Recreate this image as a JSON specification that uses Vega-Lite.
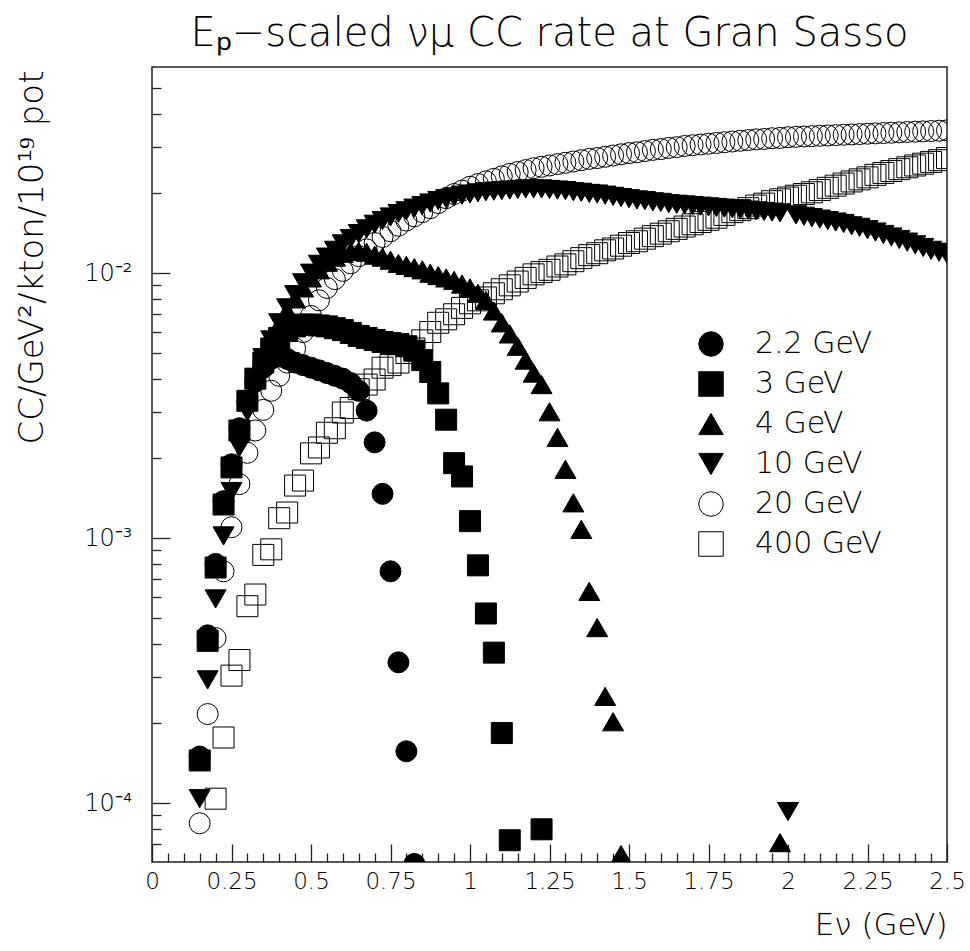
{
"$schema": "https://vega.github.io/schema/vega-lite/v6.json",
"width": 795, "height": 795,
"autosize": {"type": "none"},
"padding": {"left": 152, "top": 67, "right": 23, "bottom": 89},
"background": "white",
"config": {
 "font": "DejaVu Sans",
 "view": {"stroke": "#222", "strokeWidth": 1.5},
 "axis": {"grid": false, "domain": false, "tickColor": "#222", "tickWidth": 1.3, "labelColor": "black", "titleColor": "black", "labelFont": "DejaVu Sans", "titleFont": "DejaVu Sans", "labelFontWeight": 200, "titleFontWeight": 200}
},
"title": {"text": "Eₚ−scaled νμ CC rate at Gran Sasso", "fontSize": 40, "fontWeight": 200, "color": "black", "anchor": "middle", "baseline": "alphabetic", "offset": 22, "dy": 41, "font": "DejaVu Sans"},
"datasets": {"d": [
{"s":"2.2 GeV","x":0.15,"y":1.5e-4},{"s":"2.2 GeV","x":0.175,"y":4.3e-4},{"s":"2.2 GeV","x":0.2,"y":8.0e-4},{"s":"2.2 GeV","x":0.225,"y":1.38e-3},{"s":"2.2 GeV","x":0.25,"y":1.9e-3},{"s":"2.2 GeV","x":0.275,"y":2.6e-3},{"s":"2.2 GeV","x":0.3,"y":3.3e-3},{"s":"2.2 GeV","x":0.325,"y":3.9e-3},{"s":"2.2 GeV","x":0.35,"y":4.4e-3},{"s":"2.2 GeV","x":0.375,"y":4.75e-3},{"s":"2.2 GeV","x":0.4,"y":4.85e-3},{"s":"2.2 GeV","x":0.425,"y":4.75e-3},{"s":"2.2 GeV","x":0.45,"y":4.6e-3},{"s":"2.2 GeV","x":0.475,"y":4.5e-3},{"s":"2.2 GeV","x":0.5,"y":4.4e-3},{"s":"2.2 GeV","x":0.525,"y":4.3e-3},{"s":"2.2 GeV","x":0.55,"y":4.2e-3},{"s":"2.2 GeV","x":0.575,"y":4.1e-3},{"s":"2.2 GeV","x":0.6,"y":4.0e-3},{"s":"2.2 GeV","x":0.625,"y":3.85e-3},{"s":"2.2 GeV","x":0.65,"y":3.6e-3},{"s":"2.2 GeV","x":0.675,"y":3.03e-3},{"s":"2.2 GeV","x":0.7,"y":2.3e-3},{"s":"2.2 GeV","x":0.725,"y":1.47e-3},{"s":"2.2 GeV","x":0.75,"y":7.5e-4},{"s":"2.2 GeV","x":0.775,"y":3.4e-4},{"s":"2.2 GeV","x":0.8,"y":1.57e-4},{"s":"2.2 GeV","x":0.825,"y":5.9e-5},
{"s":"3 GeV","x":0.15,"y":1.45e-4},{"s":"3 GeV","x":0.175,"y":4.1e-4},{"s":"3 GeV","x":0.2,"y":7.75e-4},{"s":"3 GeV","x":0.225,"y":1.34e-3},{"s":"3 GeV","x":0.25,"y":1.85e-3},{"s":"3 GeV","x":0.275,"y":2.55e-3},{"s":"3 GeV","x":0.3,"y":3.3e-3},{"s":"3 GeV","x":0.325,"y":4.0e-3},{"s":"3 GeV","x":0.35,"y":4.6e-3},{"s":"3 GeV","x":0.375,"y":5.2e-3},{"s":"3 GeV","x":0.4,"y":5.7e-3},{"s":"3 GeV","x":0.425,"y":6.05e-3},{"s":"3 GeV","x":0.45,"y":6.3e-3},{"s":"3 GeV","x":0.475,"y":6.4e-3},{"s":"3 GeV","x":0.5,"y":6.4e-3},{"s":"3 GeV","x":0.525,"y":6.35e-3},{"s":"3 GeV","x":0.55,"y":6.3e-3},{"s":"3 GeV","x":0.575,"y":6.2e-3},{"s":"3 GeV","x":0.6,"y":6.1e-3},{"s":"3 GeV","x":0.625,"y":5.95e-3},{"s":"3 GeV","x":0.65,"y":5.8e-3},{"s":"3 GeV","x":0.675,"y":5.7e-3},{"s":"3 GeV","x":0.7,"y":5.6e-3},{"s":"3 GeV","x":0.725,"y":5.5e-3},{"s":"3 GeV","x":0.75,"y":5.45e-3},{"s":"3 GeV","x":0.775,"y":5.4e-3},{"s":"3 GeV","x":0.8,"y":5.3e-3},{"s":"3 GeV","x":0.825,"y":5.1e-3},{"s":"3 GeV","x":0.85,"y":4.7e-3},{"s":"3 GeV","x":0.875,"y":4.24e-3},{"s":"3 GeV","x":0.9,"y":3.52e-3},{"s":"3 GeV","x":0.925,"y":2.8e-3},{"s":"3 GeV","x":0.95,"y":1.92e-3},{"s":"3 GeV","x":0.975,"y":1.71e-3},{"s":"3 GeV","x":1.0,"y":1.16e-3},{"s":"3 GeV","x":1.025,"y":7.9e-4},{"s":"3 GeV","x":1.05,"y":5.2e-4},{"s":"3 GeV","x":1.075,"y":3.7e-4},{"s":"3 GeV","x":1.1,"y":1.84e-4},{"s":"3 GeV","x":1.125,"y":7.25e-5},{"s":"3 GeV","x":1.225,"y":7.97e-5},
{"s":"4 GeV","x":0.15,"y":1.5e-4},{"s":"4 GeV","x":0.175,"y":4.2e-4},{"s":"4 GeV","x":0.2,"y":7.9e-4},{"s":"4 GeV","x":0.225,"y":1.36e-3},{"s":"4 GeV","x":0.25,"y":1.85e-3},{"s":"4 GeV","x":0.275,"y":2.55e-3},{"s":"4 GeV","x":0.3,"y":3.3e-3},{"s":"4 GeV","x":0.325,"y":4.1e-3},{"s":"4 GeV","x":0.35,"y":4.9e-3},{"s":"4 GeV","x":0.375,"y":5.7e-3},{"s":"4 GeV","x":0.4,"y":6.4e-3},{"s":"4 GeV","x":0.425,"y":7.2e-3},{"s":"4 GeV","x":0.45,"y":8.0e-3},{"s":"4 GeV","x":0.475,"y":8.8e-3},{"s":"4 GeV","x":0.5,"y":9.6e-3},{"s":"4 GeV","x":0.525,"y":1.03e-2},{"s":"4 GeV","x":0.55,"y":1.1e-2},{"s":"4 GeV","x":0.575,"y":1.15e-2},{"s":"4 GeV","x":0.6,"y":1.19e-2},{"s":"4 GeV","x":0.625,"y":1.21e-2},{"s":"4 GeV","x":0.65,"y":1.21e-2},{"s":"4 GeV","x":0.675,"y":1.2e-2},{"s":"4 GeV","x":0.7,"y":1.17e-2},{"s":"4 GeV","x":0.725,"y":1.15e-2},{"s":"4 GeV","x":0.75,"y":1.12e-2},{"s":"4 GeV","x":0.775,"y":1.09e-2},{"s":"4 GeV","x":0.8,"y":1.07e-2},{"s":"4 GeV","x":0.825,"y":1.05e-2},{"s":"4 GeV","x":0.85,"y":1.03e-2},{"s":"4 GeV","x":0.875,"y":1.0e-2},{"s":"4 GeV","x":0.9,"y":9.8e-3},{"s":"4 GeV","x":0.925,"y":9.6e-3},{"s":"4 GeV","x":0.95,"y":9.4e-3},{"s":"4 GeV","x":0.975,"y":9.1e-3},{"s":"4 GeV","x":1.0,"y":8.8e-3},{"s":"4 GeV","x":1.025,"y":8.4e-3},{"s":"4 GeV","x":1.05,"y":7.9e-3},{"s":"4 GeV","x":1.075,"y":7.2e-3},{"s":"4 GeV","x":1.1,"y":6.5e-3},{"s":"4 GeV","x":1.125,"y":5.9e-3},{"s":"4 GeV","x":1.15,"y":5.3e-3},{"s":"4 GeV","x":1.175,"y":4.7e-3},{"s":"4 GeV","x":1.2,"y":4.2e-3},{"s":"4 GeV","x":1.225,"y":3.8e-3},{"s":"4 GeV","x":1.25,"y":3.0e-3},{"s":"4 GeV","x":1.275,"y":2.4e-3},{"s":"4 GeV","x":1.3,"y":1.82e-3},{"s":"4 GeV","x":1.325,"y":1.36e-3},{"s":"4 GeV","x":1.35,"y":1.08e-3},{"s":"4 GeV","x":1.375,"y":6.3e-4},{"s":"4 GeV","x":1.4,"y":4.6e-4},{"s":"4 GeV","x":1.425,"y":2.53e-4},{"s":"4 GeV","x":1.45,"y":2.03e-4},{"s":"4 GeV","x":1.475,"y":6.4e-5},{"s":"4 GeV","x":1.975,"y":7.1e-5},
{"s":"10 GeV","x":0.15,"y":1.04e-4},{"s":"10 GeV","x":0.175,"y":2.92e-4},{"s":"10 GeV","x":0.2,"y":5.9e-4},{"s":"10 GeV","x":0.225,"y":1.02e-3},{"s":"10 GeV","x":0.25,"y":1.5e-3},{"s":"10 GeV","x":0.275,"y":2.2e-3},{"s":"10 GeV","x":0.3,"y":3.0e-3},{"s":"10 GeV","x":0.325,"y":3.9e-3},{"s":"10 GeV","x":0.35,"y":4.8e-3},{"s":"10 GeV","x":0.375,"y":5.6e-3},{"s":"10 GeV","x":0.4,"y":6.5e-3},{"s":"10 GeV","x":0.425,"y":7.4e-3},{"s":"10 GeV","x":0.45,"y":8.3e-3},{"s":"10 GeV","x":0.475,"y":9.2e-3},{"s":"10 GeV","x":0.5,"y":1.0e-2},{"s":"10 GeV","x":0.525,"y":1.08e-2},{"s":"10 GeV","x":0.55,"y":1.15e-2},{"s":"10 GeV","x":0.575,"y":1.22e-2},{"s":"10 GeV","x":0.6,"y":1.29e-2},{"s":"10 GeV","x":0.625,"y":1.35e-2},{"s":"10 GeV","x":0.65,"y":1.41e-2},{"s":"10 GeV","x":0.675,"y":1.47e-2},{"s":"10 GeV","x":0.7,"y":1.53e-2},{"s":"10 GeV","x":0.725,"y":1.58e-2},{"s":"10 GeV","x":0.75,"y":1.63e-2},{"s":"10 GeV","x":0.775,"y":1.68e-2},{"s":"10 GeV","x":0.8,"y":1.72e-2},{"s":"10 GeV","x":0.825,"y":1.76e-2},{"s":"10 GeV","x":0.85,"y":1.8e-2},{"s":"10 GeV","x":0.875,"y":1.84e-2},{"s":"10 GeV","x":0.9,"y":1.88e-2},{"s":"10 GeV","x":0.925,"y":1.91e-2},{"s":"10 GeV","x":0.95,"y":1.94e-2},{"s":"10 GeV","x":0.975,"y":1.97e-2},{"s":"10 GeV","x":1.0,"y":1.99e-2},{"s":"10 GeV","x":1.025,"y":2.01e-2},{"s":"10 GeV","x":1.05,"y":2.03e-2},{"s":"10 GeV","x":1.075,"y":2.04e-2},{"s":"10 GeV","x":1.1,"y":2.05e-2},{"s":"10 GeV","x":1.125,"y":2.06e-2},{"s":"10 GeV","x":1.15,"y":2.07e-2},{"s":"10 GeV","x":1.175,"y":2.08e-2},{"s":"10 GeV","x":1.2,"y":2.08e-2},{"s":"10 GeV","x":1.225,"y":2.08e-2},{"s":"10 GeV","x":1.25,"y":2.07e-2},{"s":"10 GeV","x":1.275,"y":2.06e-2},{"s":"10 GeV","x":1.3,"y":2.05e-2},{"s":"10 GeV","x":1.325,"y":2.03e-2},{"s":"10 GeV","x":1.35,"y":2.02e-2},{"s":"10 GeV","x":1.375,"y":2.0e-2},{"s":"10 GeV","x":1.4,"y":1.99e-2},{"s":"10 GeV","x":1.425,"y":1.97e-2},{"s":"10 GeV","x":1.45,"y":1.95e-2},{"s":"10 GeV","x":1.475,"y":1.93e-2},{"s":"10 GeV","x":1.5,"y":1.91e-2},{"s":"10 GeV","x":1.525,"y":1.89e-2},{"s":"10 GeV","x":1.55,"y":1.88e-2},{"s":"10 GeV","x":1.575,"y":1.86e-2},{"s":"10 GeV","x":1.6,"y":1.85e-2},{"s":"10 GeV","x":1.625,"y":1.83e-2},{"s":"10 GeV","x":1.65,"y":1.82e-2},{"s":"10 GeV","x":1.675,"y":1.81e-2},{"s":"10 GeV","x":1.7,"y":1.8e-2},{"s":"10 GeV","x":1.725,"y":1.79e-2},{"s":"10 GeV","x":1.75,"y":1.78e-2},{"s":"10 GeV","x":1.775,"y":1.77e-2},{"s":"10 GeV","x":1.8,"y":1.76e-2},{"s":"10 GeV","x":1.825,"y":1.75e-2},{"s":"10 GeV","x":1.85,"y":1.74e-2},{"s":"10 GeV","x":1.875,"y":1.73e-2},{"s":"10 GeV","x":1.9,"y":1.72e-2},{"s":"10 GeV","x":1.925,"y":1.71e-2},{"s":"10 GeV","x":1.95,"y":1.7e-2},{"s":"10 GeV","x":1.975,"y":1.69e-2},{"s":"10 GeV","x":2.0,"y":9.3e-5},{"s":"10 GeV","x":2.025,"y":1.66e-2},{"s":"10 GeV","x":2.05,"y":1.64e-2},{"s":"10 GeV","x":2.075,"y":1.62e-2},{"s":"10 GeV","x":2.1,"y":1.6e-2},{"s":"10 GeV","x":2.125,"y":1.58e-2},{"s":"10 GeV","x":2.15,"y":1.56e-2},{"s":"10 GeV","x":2.175,"y":1.54e-2},{"s":"10 GeV","x":2.2,"y":1.51e-2},{"s":"10 GeV","x":2.225,"y":1.49e-2},{"s":"10 GeV","x":2.25,"y":1.46e-2},{"s":"10 GeV","x":2.275,"y":1.43e-2},{"s":"10 GeV","x":2.3,"y":1.4e-2},{"s":"10 GeV","x":2.325,"y":1.37e-2},{"s":"10 GeV","x":2.35,"y":1.34e-2},{"s":"10 GeV","x":2.375,"y":1.31e-2},{"s":"10 GeV","x":2.4,"y":1.28e-2},{"s":"10 GeV","x":2.425,"y":1.25e-2},{"s":"10 GeV","x":2.45,"y":1.22e-2},{"s":"10 GeV","x":2.475,"y":1.2e-2},{"s":"10 GeV","x":2.5,"y":1.18e-2},
{"s":"20 GeV","x":0.15,"y":8.4e-5},{"s":"20 GeV","x":0.175,"y":2.17e-4},{"s":"20 GeV","x":0.2,"y":4.2e-4},{"s":"20 GeV","x":0.225,"y":7.5e-4},{"s":"20 GeV","x":0.25,"y":1.1e-3},{"s":"20 GeV","x":0.275,"y":1.6e-3},{"s":"20 GeV","x":0.3,"y":2.1e-3},{"s":"20 GeV","x":0.325,"y":2.55e-3},{"s":"20 GeV","x":0.35,"y":3.05e-3},{"s":"20 GeV","x":0.375,"y":3.6e-3},{"s":"20 GeV","x":0.4,"y":4.1e-3},{"s":"20 GeV","x":0.425,"y":4.6e-3},{"s":"20 GeV","x":0.45,"y":5.2e-3},{"s":"20 GeV","x":0.475,"y":6.0e-3},{"s":"20 GeV","x":0.5,"y":6.9e-3},{"s":"20 GeV","x":0.525,"y":7.9e-3},{"s":"20 GeV","x":0.55,"y":8.8e-3},{"s":"20 GeV","x":0.575,"y":9.5e-3},{"s":"20 GeV","x":0.6,"y":1.02e-2},{"s":"20 GeV","x":0.625,"y":1.09e-2},{"s":"20 GeV","x":0.65,"y":1.16e-2},{"s":"20 GeV","x":0.675,"y":1.23e-2},{"s":"20 GeV","x":0.7,"y":1.3e-2},{"s":"20 GeV","x":0.725,"y":1.37e-2},{"s":"20 GeV","x":0.75,"y":1.44e-2},{"s":"20 GeV","x":0.775,"y":1.51e-2},{"s":"20 GeV","x":0.8,"y":1.58e-2},{"s":"20 GeV","x":0.825,"y":1.64e-2},{"s":"20 GeV","x":0.85,"y":1.7e-2},{"s":"20 GeV","x":0.875,"y":1.76e-2},{"s":"20 GeV","x":0.9,"y":1.84e-2},{"s":"20 GeV","x":0.925,"y":1.92e-2},{"s":"20 GeV","x":0.95,"y":1.99e-2},{"s":"20 GeV","x":0.975,"y":2.05e-2},{"s":"20 GeV","x":1.0,"y":2.12e-2},{"s":"20 GeV","x":1.025,"y":2.17e-2},{"s":"20 GeV","x":1.05,"y":2.22e-2},{"s":"20 GeV","x":1.075,"y":2.27e-2},{"s":"20 GeV","x":1.1,"y":2.32e-2},{"s":"20 GeV","x":1.125,"y":2.37e-2},{"s":"20 GeV","x":1.15,"y":2.41e-2},{"s":"20 GeV","x":1.175,"y":2.45e-2},{"s":"20 GeV","x":1.2,"y":2.49e-2},{"s":"20 GeV","x":1.225,"y":2.52e-2},{"s":"20 GeV","x":1.25,"y":2.55e-2},{"s":"20 GeV","x":1.275,"y":2.58e-2},{"s":"20 GeV","x":1.3,"y":2.61e-2},{"s":"20 GeV","x":1.325,"y":2.64e-2},{"s":"20 GeV","x":1.35,"y":2.67e-2},{"s":"20 GeV","x":1.375,"y":2.7e-2},{"s":"20 GeV","x":1.4,"y":2.72e-2},{"s":"20 GeV","x":1.425,"y":2.75e-2},{"s":"20 GeV","x":1.45,"y":2.78e-2},{"s":"20 GeV","x":1.475,"y":2.81e-2},{"s":"20 GeV","x":1.5,"y":2.84e-2},{"s":"20 GeV","x":1.525,"y":2.86e-2},{"s":"20 GeV","x":1.55,"y":2.89e-2},{"s":"20 GeV","x":1.575,"y":2.92e-2},{"s":"20 GeV","x":1.6,"y":2.94e-2},{"s":"20 GeV","x":1.625,"y":2.97e-2},{"s":"20 GeV","x":1.65,"y":2.99e-2},{"s":"20 GeV","x":1.675,"y":3.02e-2},{"s":"20 GeV","x":1.7,"y":3.04e-2},{"s":"20 GeV","x":1.725,"y":3.06e-2},{"s":"20 GeV","x":1.75,"y":3.08e-2},{"s":"20 GeV","x":1.775,"y":3.1e-2},{"s":"20 GeV","x":1.8,"y":3.12e-2},{"s":"20 GeV","x":1.825,"y":3.14e-2},{"s":"20 GeV","x":1.85,"y":3.16e-2},{"s":"20 GeV","x":1.875,"y":3.18e-2},{"s":"20 GeV","x":1.9,"y":3.2e-2},{"s":"20 GeV","x":1.925,"y":3.21e-2},{"s":"20 GeV","x":1.95,"y":3.23e-2},{"s":"20 GeV","x":1.975,"y":3.24e-2},{"s":"20 GeV","x":2.0,"y":3.26e-2},{"s":"20 GeV","x":2.025,"y":3.27e-2},{"s":"20 GeV","x":2.05,"y":3.28e-2},{"s":"20 GeV","x":2.075,"y":3.29e-2},{"s":"20 GeV","x":2.1,"y":3.3e-2},{"s":"20 GeV","x":2.125,"y":3.31e-2},{"s":"20 GeV","x":2.15,"y":3.32e-2},{"s":"20 GeV","x":2.175,"y":3.33e-2},{"s":"20 GeV","x":2.2,"y":3.34e-2},{"s":"20 GeV","x":2.225,"y":3.35e-2},{"s":"20 GeV","x":2.25,"y":3.36e-2},{"s":"20 GeV","x":2.275,"y":3.37e-2},{"s":"20 GeV","x":2.3,"y":3.38e-2},{"s":"20 GeV","x":2.325,"y":3.39e-2},{"s":"20 GeV","x":2.35,"y":3.4e-2},{"s":"20 GeV","x":2.375,"y":3.41e-2},{"s":"20 GeV","x":2.4,"y":3.42e-2},{"s":"20 GeV","x":2.425,"y":3.43e-2},{"s":"20 GeV","x":2.45,"y":3.44e-2},{"s":"20 GeV","x":2.475,"y":3.45e-2},{"s":"20 GeV","x":2.5,"y":3.46e-2},
{"s":"400 GeV","x":0.175,"y":5.2e-5},{"s":"400 GeV","x":0.2,"y":1.04e-4},{"s":"400 GeV","x":0.225,"y":1.77e-4},{"s":"400 GeV","x":0.25,"y":3.03e-4},{"s":"400 GeV","x":0.275,"y":3.47e-4},{"s":"400 GeV","x":0.3,"y":5.54e-4},{"s":"400 GeV","x":0.325,"y":6.13e-4},{"s":"400 GeV","x":0.35,"y":8.65e-4},{"s":"400 GeV","x":0.375,"y":9.08e-4},{"s":"400 GeV","x":0.4,"y":1.19e-3},{"s":"400 GeV","x":0.425,"y":1.25e-3},{"s":"400 GeV","x":0.45,"y":1.58e-3},{"s":"400 GeV","x":0.475,"y":1.65e-3},{"s":"400 GeV","x":0.5,"y":2.09e-3},{"s":"400 GeV","x":0.525,"y":2.2e-3},{"s":"400 GeV","x":0.55,"y":2.5e-3},{"s":"400 GeV","x":0.575,"y":2.6e-3},{"s":"400 GeV","x":0.6,"y":2.98e-3},{"s":"400 GeV","x":0.625,"y":3.1e-3},{"s":"400 GeV","x":0.65,"y":3.65e-3},{"s":"400 GeV","x":0.675,"y":3.8e-3},{"s":"400 GeV","x":0.7,"y":3.97e-3},{"s":"400 GeV","x":0.725,"y":4.4e-3},{"s":"400 GeV","x":0.75,"y":4.5e-3},{"s":"400 GeV","x":0.775,"y":4.6e-3},{"s":"400 GeV","x":0.8,"y":5.0e-3},{"s":"400 GeV","x":0.825,"y":5.2e-3},{"s":"400 GeV","x":0.85,"y":5.58e-3},{"s":"400 GeV","x":0.875,"y":6.0e-3},{"s":"400 GeV","x":0.9,"y":6.5e-3},{"s":"400 GeV","x":0.925,"y":6.7e-3},{"s":"400 GeV","x":0.95,"y":7.0e-3},{"s":"400 GeV","x":0.975,"y":7.4e-3},{"s":"400 GeV","x":1.0,"y":7.7e-3},{"s":"400 GeV","x":1.025,"y":7.9e-3},{"s":"400 GeV","x":1.05,"y":8.1e-3},{"s":"400 GeV","x":1.075,"y":8.4e-3},{"s":"400 GeV","x":1.1,"y":8.7e-3},{"s":"400 GeV","x":1.125,"y":9.0e-3},{"s":"400 GeV","x":1.15,"y":9.3e-3},{"s":"400 GeV","x":1.175,"y":9.6e-3},{"s":"400 GeV","x":1.2,"y":9.9e-3},{"s":"400 GeV","x":1.225,"y":1.01e-2},{"s":"400 GeV","x":1.25,"y":1.03e-2},{"s":"400 GeV","x":1.275,"y":1.06e-2},{"s":"400 GeV","x":1.3,"y":1.08e-2},{"s":"400 GeV","x":1.325,"y":1.11e-2},{"s":"400 GeV","x":1.35,"y":1.14e-2},{"s":"400 GeV","x":1.375,"y":1.17e-2},{"s":"400 GeV","x":1.4,"y":1.19e-2},{"s":"400 GeV","x":1.425,"y":1.22e-2},{"s":"400 GeV","x":1.45,"y":1.24e-2},{"s":"400 GeV","x":1.475,"y":1.27e-2},{"s":"400 GeV","x":1.5,"y":1.3e-2},{"s":"400 GeV","x":1.525,"y":1.32e-2},{"s":"400 GeV","x":1.55,"y":1.35e-2},{"s":"400 GeV","x":1.575,"y":1.38e-2},{"s":"400 GeV","x":1.6,"y":1.41e-2},{"s":"400 GeV","x":1.625,"y":1.44e-2},{"s":"400 GeV","x":1.65,"y":1.47e-2},{"s":"400 GeV","x":1.675,"y":1.5e-2},{"s":"400 GeV","x":1.7,"y":1.53e-2},{"s":"400 GeV","x":1.725,"y":1.56e-2},{"s":"400 GeV","x":1.75,"y":1.59e-2},{"s":"400 GeV","x":1.775,"y":1.62e-2},{"s":"400 GeV","x":1.8,"y":1.66e-2},{"s":"400 GeV","x":1.825,"y":1.7e-2},{"s":"400 GeV","x":1.85,"y":1.73e-2},{"s":"400 GeV","x":1.875,"y":1.76e-2},{"s":"400 GeV","x":1.9,"y":1.8e-2},{"s":"400 GeV","x":1.925,"y":1.83e-2},{"s":"400 GeV","x":1.95,"y":1.87e-2},{"s":"400 GeV","x":1.975,"y":1.9e-2},{"s":"400 GeV","x":2.0,"y":1.93e-2},{"s":"400 GeV","x":2.025,"y":1.96e-2},{"s":"400 GeV","x":2.05,"y":1.99e-2},{"s":"400 GeV","x":2.075,"y":2.02e-2},{"s":"400 GeV","x":2.1,"y":2.06e-2},{"s":"400 GeV","x":2.125,"y":2.1e-2},{"s":"400 GeV","x":2.15,"y":2.14e-2},{"s":"400 GeV","x":2.175,"y":2.18e-2},{"s":"400 GeV","x":2.2,"y":2.22e-2},{"s":"400 GeV","x":2.225,"y":2.26e-2},{"s":"400 GeV","x":2.25,"y":2.3e-2},{"s":"400 GeV","x":2.275,"y":2.35e-2},{"s":"400 GeV","x":2.3,"y":2.39e-2},{"s":"400 GeV","x":2.325,"y":2.43e-2},{"s":"400 GeV","x":2.35,"y":2.47e-2},{"s":"400 GeV","x":2.375,"y":2.51e-2},{"s":"400 GeV","x":2.4,"y":2.55e-2},{"s":"400 GeV","x":2.425,"y":2.59e-2},{"s":"400 GeV","x":2.45,"y":2.63e-2},{"s":"400 GeV","x":2.475,"y":2.67e-2},{"s":"400 GeV","x":2.5,"y":2.72e-2}
]},
"data": {"name": "d"},
"layer": [
 {
  "mark": {"type": "point", "filled": true, "size": 441, "strokeWidth": 1, "opacity": 1, "clip": true},
  "encoding": {
   "x": {"field": "x", "type": "quantitative", "scale": {"domain": [0, 2.5], "nice": false, "zero": false},
     "axis": {"orient": "bottom", "values": [0.05,0.1,0.15,0.2,0.3,0.35,0.4,0.45,0.55,0.6,0.65,0.7,0.8,0.85,0.9,0.95,1.05,1.1,1.15,1.2,1.3,1.35,1.4,1.45,1.55,1.6,1.65,1.7,1.8,1.85,1.9,1.95,2.05,2.1,2.15,2.2,2.3,2.35,2.4,2.45], "tickSize": -9, "labels": false, "title": null}},
   "y": {"field": "y", "type": "quantitative", "scale": {"type": "log", "domain": [6e-5, 6e-2], "nice": false},
     "axis": {"orient": "left", "values": [7e-5,8e-5,9e-5,2e-4,3e-4,4e-4,5e-4,6e-4,7e-4,8e-4,9e-4,2e-3,3e-3,4e-3,5e-3,6e-3,7e-3,8e-3,9e-3,2e-2,3e-2,4e-2,5e-2], "tickSize": -9, "labels": false, "title": null}},
   "shape": {"field": "s", "type": "nominal",
     "scale": {"domain": ["2.2 GeV","3 GeV","4 GeV","10 GeV","20 GeV","400 GeV"], "range": ["circle","square","triangle-up","triangle-down","circle","square"]},
     "legend": {"orient": "none", "legendX": 544, "legendY": 262, "title": null, "labelFontSize": 30, "labelFont": "DejaVu Sans", "labelFontWeight": 200, "labelColor": "black", "symbolSize": 600, "symbolStrokeWidth": 1, "rowPadding": 10, "labelOffset": 29, "padding": 0, "labelLimit": 0}},
   "fill": {"field": "s", "type": "nominal",
     "scale": {"domain": ["2.2 GeV","3 GeV","4 GeV","10 GeV","20 GeV","400 GeV"], "range": ["black","black","black","black","transparent","transparent"]},
     "legend": {"orient": "none", "legendX": 544, "legendY": 262, "title": null, "labelFontSize": 30, "labelFont": "DejaVu Sans", "labelFontWeight": 200, "labelColor": "black", "symbolSize": 600, "symbolStrokeWidth": 1, "rowPadding": 10, "labelOffset": 29, "padding": 0, "labelLimit": 0}},
   "stroke": {"field": "s", "type": "nominal",
     "scale": {"domain": ["2.2 GeV","3 GeV","4 GeV","10 GeV","20 GeV","400 GeV"], "range": ["black","black","black","black","black","black"]},
     "legend": {"orient": "none", "legendX": 544, "legendY": 262, "title": null, "labelFontSize": 30, "labelFont": "DejaVu Sans", "labelFontWeight": 200, "labelColor": "black", "symbolSize": 600, "symbolStrokeWidth": 1, "rowPadding": 10, "labelOffset": 29, "padding": 0, "labelLimit": 0}}
  }
 },
 {
  "mark": {"type": "point", "opacity": 0},
  "encoding": {
   "x": {"field": "x", "type": "quantitative", "scale": {"domain": [0, 2.5], "nice": false, "zero": false},
     "axis": {"orient": "bottom", "values": [0,0.25,0.5,0.75,1,1.25,1.5,1.75,2,2.25,2.5], "tickSize": -18, "labelExpr": "'' + datum.value", "labelFontSize": 23, "labelPadding": 26, "labelFlush": false,
       "title": "Eν (GeV)", "titleFontSize": 31, "titleAnchor": "end", "titleAlign": "right", "titleBaseline": "alphabetic", "titleX": 795, "titleY": 72}},
   "y": {"field": "y", "type": "quantitative", "scale": {"type": "log", "domain": [6e-5, 6e-2], "nice": false},
     "axis": {"orient": "left", "values": [1e-4, 1e-3, 1e-2], "tickSize": -18, "labelFontSize": 24, "labelPadding": 38, "labelBaseline": "middle",
       "labelExpr": "datum.value < 0.0005 ? '10⁻⁴' : datum.value < 0.005 ? '10⁻³' : '10⁻²'",
       "title": "CC/GeV²/kton/10¹⁹ pot", "titleFontSize": 34, "titleAngle": -90, "titleAlign": "right", "titleBaseline": "alphabetic", "titleX": -110, "titleY": 3}}
  }
 }
],
"resolve": {"axis": {"x": "independent", "y": "independent"}}
}
